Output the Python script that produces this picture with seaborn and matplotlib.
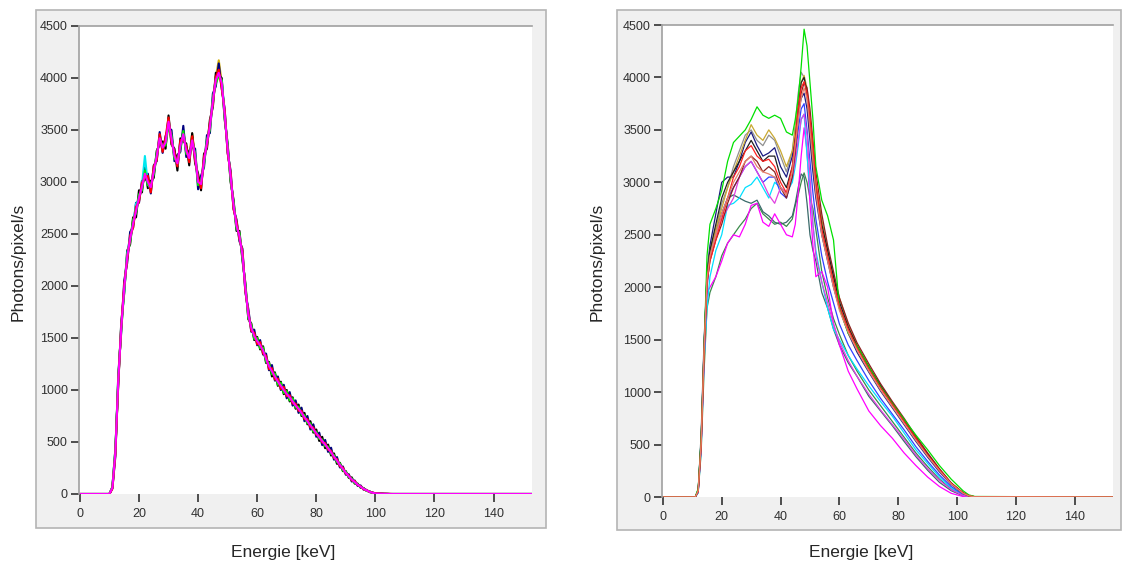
import pandas as pd
import numpy as np
import matplotlib.pyplot as plt
from matplotlib.patches import Rectangle
import seaborn as sns

sns.set_style('white')
plt.rcParams['font.family'] = ['Liberation Sans', 'DejaVu Sans']

# 왼쪽 패널: 1 keV 간격 (10 ~ 106 keV), 양끝은 0
left_energy = list(range(10, 107))

left_gold = [0, 62, 395, 1105, 1605, 1975, 2285, 2455, 2595, 2725,
             2845, 2955, 3075, 3005, 2945, 3105, 3245, 3425, 3325, 3385,
             3575, 3425, 3245, 3185, 3345, 3485, 3295, 3255, 3465, 3245,
             3005, 2975, 3205, 3375, 3535, 3775, 4010, 4170, 3955, 3645,
             3325, 3045, 2785, 2575, 2485, 2295, 1985, 1715, 1605, 1515,
             1475, 1425, 1385, 1295, 1235, 1175, 1135, 1075, 1045, 995,
             965, 925, 895, 845, 825, 775, 745, 695, 665, 615,
             590, 540, 515, 470, 445, 395, 365, 315, 285, 235,
             208, 168, 142, 113, 91, 69, 51, 34, 22, 12,
             6, 4, 3, 2, 1, 0, 0]
left_navy = [0, 55, 360, 1150, 1560, 2050, 2220, 2520, 2560, 2800,
             2800, 3010, 3020, 3080, 2890, 3160, 3200, 3480, 3280, 3440,
             3520, 3500, 3200, 3260, 3290, 3540, 3240, 3300, 3340, 3320,
             2930, 3060, 3140, 3450, 3470, 3850, 3920, 4140, 3900, 3700,
             3280, 3110, 2740, 2640, 2430, 2360, 1940, 1780, 1560, 1580,
             1430, 1480, 1340, 1350, 1190, 1240, 1090, 1130, 1000, 1050,
             920, 980, 850, 900, 780, 830, 700, 750, 620, 670,
             550, 590, 470, 520, 405, 445, 330, 355, 255, 265,
             185, 190, 120, 130, 78, 82, 42, 40, 18, 15,
             5, 5, 3, 2, 1, 0, 0]
left_black = [0, 65, 430, 1060, 1650, 1930, 2340, 2400, 2660, 2660,
              2920, 2900, 3140, 2940, 3010, 3040, 3300, 3360, 3390, 3320,
              3640, 3360, 3320, 3110, 3420, 3390, 3370, 3160, 3470, 3180,
              3080, 2920, 3270, 3320, 3600, 3720, 4050, 4020, 4000, 3600,
              3370, 3000, 2830, 2530, 2530, 2250, 2030, 1680, 1640, 1480,
              1510, 1390, 1420, 1260, 1270, 1130, 1170, 1040, 1080, 960,
              1000, 890, 930, 820, 860, 750, 780, 670, 700, 590,
              620, 510, 550, 440, 475, 370, 390, 290, 300, 220,
              220, 155, 160, 100, 100, 60, 58, 30, 26, 10,
              8, 3, 4, 1, 1, 0, 0]
left_cyan = [0, 65, 410, 1090, 1630, 1950, 2310, 2470, 2580, 2790,
             2830, 2970, 3250, 2980, 2930, 3120, 3230, 3440, 3310, 3400,
             3600, 3400, 3270, 3160, 3370, 3440, 3320, 3210, 3420, 3230,
             3020, 2960, 3220, 3360, 3550, 3760, 4000, 4030, 3970, 3670,
             3300, 3070, 2760, 2600, 2460, 2320, 1960, 1740, 1580, 1540,
             1450, 1450, 1360, 1320, 1210, 1200, 1110, 1100, 1020, 1020,
             950, 940, 880, 860, 810, 790, 730, 710, 650, 630,
             575, 555, 500, 485, 430, 410, 350, 330, 270, 250,
             200, 175, 135, 120, 88, 72, 48, 36, 21, 13,
             6, 4, 3, 2, 1, 0, 0]
left_lime = [0, 70, 420, 1120, 1580, 1960, 2300, 2420, 2640, 2700,
             2880, 2920, 3110, 2970, 2980, 3070, 3280, 3390, 3360, 3350,
             3550, 3450, 3220, 3210, 3320, 3490, 3270, 3260, 3370, 3280,
             2970, 3010, 3170, 3410, 3500, 3810, 3950, 4020, 3980, 3620,
             3350, 3020, 2810, 2550, 2510, 2270, 2010, 1690, 1630, 1490,
             1500, 1400, 1410, 1270, 1260, 1150, 1160, 1050, 1070, 970,
             990, 900, 920, 830, 840, 760, 760, 680, 680, 600,
             600, 530, 525, 460, 455, 385, 375, 305, 295, 225,
             215, 160, 150, 105, 95, 65, 55, 30, 25, 10,
             8, 3, 3, 1, 1, 0, 0]
left_red = [0, 50, 380, 1080, 1620, 2010, 2250, 2480, 2560, 2760,
            2810, 2990, 3040, 3060, 2900, 3150, 3210, 3460, 3290, 3430,
            3620, 3380, 3290, 3150, 3400, 3420, 3340, 3190, 3440, 3210,
            3040, 2940, 3240, 3350, 3570, 3750, 4010, 4080, 3900, 3690,
            3280, 3090, 2740, 2620, 2450, 2340, 1950, 1750, 1570, 1550,
            1440, 1460, 1350, 1330, 1200, 1210, 1100, 1110, 1010, 1030,
            940, 950, 870, 870, 800, 800, 720, 720, 640, 640,
            570, 560, 495, 490, 425, 415, 345, 335, 265, 255,
            195, 180, 130, 125, 85, 75, 45, 38, 20, 14,
            7, 5, 4, 3, 2, 1, 0]
left_magenta = [0, 60, 400, 1100, 1600, 1980, 2280, 2450, 2600, 2720,
                2850, 2950, 3080, 3000, 2950, 3100, 3250, 3420, 3330, 3380,
                3580, 3420, 3250, 3180, 3350, 3460, 3300, 3230, 3400, 3250,
                3000, 2980, 3200, 3380, 3530, 3780, 3980, 4050, 3950, 3650,
                3320, 3050, 2780, 2580, 2480, 2300, 1980, 1720, 1600, 1520,
                1470, 1430, 1380, 1300, 1230, 1180, 1130, 1080, 1040, 1000,
                960, 930, 890, 850, 820, 780, 740, 700, 660, 620,
                585, 545, 510, 475, 440, 400, 360, 320, 280, 240,
                205, 170, 140, 115, 90, 70, 50, 35, 22, 12,
                6, 4, 3, 2, 1, 0, 0]

# 오른쪽 패널
right_energy = [0, 11, 12, 13, 14, 15,
                16, 18, 20, 22, 24, 26, 28, 30, 32, 34, 36, 38, 40, 42, 44,
                45, 46, 47, 48, 49, 50, 51, 52,
                54, 56, 58, 60,
                63, 66, 70, 74, 78, 82, 86, 90, 94, 98, 102, 104, 106,
                153]

right_seagreen = [0, 0, 40, 420, 1200, 1800,
                  1950, 2100, 2300, 2420, 2500, 2580, 2650, 2750, 2800, 2700, 2650, 2600, 2620, 2580, 2650,
                  2780, 2880, 3000, 3090, 3000, 2850, 2750, 2550,
                  2150, 1900, 1700, 1550,
                  1350, 1200, 1020, 870, 720, 570, 420, 290, 170, 75, 15, 3, 0,
                  0]
right_slate = [0, 0, 60, 600, 1500, 2100,
               2350, 2550, 2700, 2850, 2880, 2850, 2820, 2800, 2830, 2720, 2680, 2620, 2600, 2620, 2680,
               2800, 2950, 3080, 3050, 2800, 2500, 2350, 2250,
               1950, 1800, 1600, 1450,
               1280, 1150, 960, 820, 680, 530, 385, 255, 140, 60, 12, 2, 0,
               0]
right_magenta = [0, 0, 50, 500, 1300, 1950,
                 2000, 2100, 2250, 2420, 2500, 2480, 2600, 2780, 2800, 2620, 2580, 2700, 2600, 2500, 2480,
                 2600, 2900, 3250, 3520, 3300, 2800, 2400, 2100,
                 2150, 2000, 1650, 1450,
                 1200, 1030, 820, 680, 560, 420, 300, 190, 100, 35, 5, 0, 0,
                 0]
right_cyan = [0, 0, 40, 450, 1300, 1800,
              2100, 2350, 2500, 2780, 2800, 2850, 2950, 2980, 3050, 2950, 2850, 3000, 2950, 2900, 3000,
              3150, 3350, 3600, 3650, 3250, 2950, 2600, 2350,
              2050, 1800, 1600, 1500,
              1350, 1220, 1060, 910, 770, 610, 450, 320, 190, 85, 20, 5, 0,
              0]
right_blue = [0, 0, 50, 480, 1350, 2000,
              2300, 2500, 2700, 2850, 2950, 3050, 3150, 3200, 3100, 3000, 3050, 3050, 2900, 2850, 3050,
              3250, 3500, 3700, 3750, 3500, 3200, 2900, 2650,
              2300, 2050, 1850, 1650,
              1450, 1300, 1110, 940, 790, 640, 480, 340, 210, 100, 25, 6, 0,
              0]
right_orchid = [0, 0, 50, 480, 1350, 2000,
                2300, 2500, 2650, 2750, 2850, 3050, 3150, 3200, 3100, 3000, 2880, 2800, 2950, 2900, 3050,
                3200, 3400, 3600, 3650, 3450, 3050, 2600, 2300,
                2050, 1850, 1650, 1480,
                1300, 1150, 980, 830, 690, 550, 400, 270, 160, 70, 15, 3, 0,
                0]
right_gray = [0, 0, 60, 520, 1410, 2090,
              2300, 2550, 2800, 2950, 3150, 3300, 3450, 3500, 3400, 3350, 3450, 3400, 3250, 3100, 3300,
              3550, 3850, 4050, 4000, 3800, 3500, 3150, 2900,
              2550, 2300, 2050, 1830,
              1610, 1430, 1230, 1050, 880, 720, 555, 400, 255, 125, 35, 10, 2,
              0]
right_navy = [0, 0, 70, 560, 1450, 2150,
              2400, 2700, 3000, 3050, 3050, 3200, 3380, 3480, 3350, 3250, 3280, 3330, 3150, 3050, 3250,
              3450, 3650, 3800, 3850, 3700, 3400, 3100, 2850,
              2500, 2250, 2000, 1800,
              1560, 1380, 1190, 1010, 850, 690, 530, 380, 240, 120, 35, 10, 2,
              0]
right_gold = [0, 0, 60, 520, 1420, 2100,
              2350, 2550, 2750, 2950, 3100, 3250, 3400, 3550, 3450, 3400, 3500, 3420, 3300, 3150, 3300,
              3500, 3750, 3950, 4020, 3900, 3600, 3300, 3000,
              2650, 2350, 2100, 1900,
              1640, 1450, 1250, 1060, 900, 740, 570, 410, 265, 130, 40, 12, 3,
              0]
right_darkred = [0, 0, 55, 490, 1370, 2040,
                 2250, 2450, 2600, 2800, 2950, 3050, 3200, 3250, 3200, 3100, 3150, 3100, 2950, 2850, 3050,
                 3300, 3600, 3850, 3950, 3900, 3700, 3400, 3100,
                 2700, 2400, 2150, 1900,
                 1660, 1470, 1270, 1080, 910, 750, 580, 420, 270, 135, 42, 12, 3,
                 0]
right_black = [0, 0, 65, 540, 1430, 2120,
               2350, 2600, 2850, 3000, 3100, 3200, 3300, 3400, 3300, 3200, 3250, 3250, 3050, 2950, 3150,
               3400, 3700, 3950, 4000, 3850, 3500, 3200, 2950,
               2600, 2350, 2100, 1860,
               1620, 1440, 1240, 1060, 890, 730, 560, 405, 260, 130, 38, 10, 2,
               0]
right_lime = [0, 0, 80, 550, 1400, 2300,
              2600, 2750, 2920, 3200, 3380, 3440, 3500, 3600, 3720, 3640, 3610, 3640, 3610, 3480, 3450,
              3600, 3800, 4100, 4460, 4300, 3950, 3600, 3150,
              2830, 2680, 2450, 1800,
              1560, 1440, 1240, 1050, 890, 740, 590, 450, 300, 170, 60, 20, 5,
              0]
right_red = [0, 0, 55, 500, 1380, 2050,
             2250, 2450, 2650, 2850, 3050, 3150, 3300, 3350, 3250, 3200, 3220, 3150, 3000, 2900, 3150,
             3400, 3700, 3900, 3960, 3850, 3600, 3350, 3000,
             2550, 2300, 2050, 1820,
             1600, 1420, 1220, 1040, 880, 720, 560, 400, 260, 130, 40, 12, 2,
             0]
right_salmon = [0, 0, 60, 510, 1400, 2080,
                2300, 2500, 2700, 2850, 3000, 3100, 3200, 3250, 3150, 3100, 3080, 3050, 2950, 2880, 3100,
                3350, 3600, 3800, 3900, 3800, 3500, 3200, 2900,
                2500, 2250, 2000, 1780,
                1570, 1400, 1200, 1020, 860, 700, 540, 390, 250, 125, 35, 10, 2,
                0]

left_curves = {'gold': left_gold, 'navy': left_navy, 'black': left_black, 'cyan': left_cyan,
               'lime': left_lime, 'red': left_red, 'magenta': left_magenta}
left_colors = {'gold': '#d4b000', 'navy': '#000080', 'black': '#000000', 'cyan': '#00e8f0',
               'lime': '#00f000', 'red': '#ff0000', 'magenta': '#ff00ff'}

right_curves = {'seagreen': right_seagreen, 'slate': right_slate, 'magenta': right_magenta,
                'cyan': right_cyan, 'blue': right_blue, 'orchid': right_orchid, 'gray': right_gray,
                'navy': right_navy, 'gold': right_gold, 'darkred': right_darkred, 'black': right_black,
                'lime': right_lime, 'red': right_red, 'salmon': right_salmon}
right_colors = {'seagreen': '#3a8a4a', 'slate': '#3a6a6a', 'magenta': '#ff00ff', 'cyan': '#00e0ff',
                'blue': '#3040ff', 'orchid': '#e040e0', 'gray': '#909090', 'navy': '#1a1a80',
                'gold': '#c8a832', 'darkred': '#8b2020', 'black': '#202020', 'lime': '#00e000',
                'red': '#ff2020', 'salmon': '#e8806a'}


def to_long(curves, energy, pad):
    rows = []
    for name, vals in curves.items():
        xs = ([0] + energy + [153]) if pad else energy
        ys = ([0] + vals + [0]) if pad else vals
        rows.append(pd.DataFrame({'energy': xs, 'counts': ys, 'curve': name}))
    return pd.concat(rows, ignore_index=True)


left_df = to_long(left_curves, left_energy, True)
right_df = to_long(right_curves, right_energy, False)

fig = plt.figure(figsize=(11.22, 5.63), dpi=100)
W, H = 1122, 563

# 회색 패널 배경 (스크린샷 창 느낌) - 축보다 뒤에 그림
for x0, y0, x1, y1 in [(36, 10, 546, 528), (617, 10, 1121, 530)]:
    fig.patches.append(Rectangle((x0 / W, 1 - y1 / H), (x1 - x0) / W, (y1 - y0) / H,
                                 transform=fig.transFigure, facecolor='#f0f0f0',
                                 edgecolor='#b4b4b4', linewidth=1.2, zorder=-5))

ax1 = fig.add_axes([79 / W, 1 - 494 / H, (532 - 79) / W, (494 - 26) / H])
ax2 = fig.add_axes([662 / W, 1 - 497 / H, (1113 - 662) / W, (497 - 25) / H])

sns.lineplot(data=left_df, x='energy', y='counts', hue='curve', hue_order=list(left_curves),
             palette=left_colors, estimator=None, sort=False, legend=False, lw=1.5, ax=ax1)
sns.lineplot(data=right_df, x='energy', y='counts', hue='curve', hue_order=list(right_curves),
             palette=right_colors, estimator=None, sort=False, legend=False, lw=0.9, ax=ax2)

for ax in (ax1, ax2):
    ax.set_facecolor('white')
    ax.set_xlim(-0.3, 153)
    ax.set_ylim(0, 4500)
    ax.set_xticks(range(0, 141, 20))
    ax.set_yticks(range(0, 4501, 500))
    ax.set_xlabel('')
    ax.set_ylabel('')
    ax.spines['right'].set_visible(False)
    ax.spines['bottom'].set_visible(False)
    for s in ('left', 'top'):
        ax.spines[s].set_color('#a0a0a0')
        ax.spines[s].set_linewidth(1.2)
    ax.tick_params(axis='both', direction='out', length=6, width=1.3, color='#404040',
                   labelsize=9, labelcolor='#303030', left=True, bottom=True)
    ax.tick_params(axis='x', pad=4)
    ax.tick_params(axis='y', pad=2)

fig.text(283 / W, 1 - 552 / H, 'Energie [keV]', ha='center', va='center', fontsize=12.5)
fig.text(861 / W, 1 - 552 / H, 'Energie [keV]', ha='center', va='center', fontsize=12.5)
fig.text(18 / W, 1 - 262 / H, 'Photons/pixel/s', ha='center', va='center', rotation=90, fontsize=12.5)
fig.text(597 / W, 1 - 262 / H, 'Photons/pixel/s', ha='center', va='center', rotation=90, fontsize=12.5)

fig.savefig('out.png', dpi=100)
